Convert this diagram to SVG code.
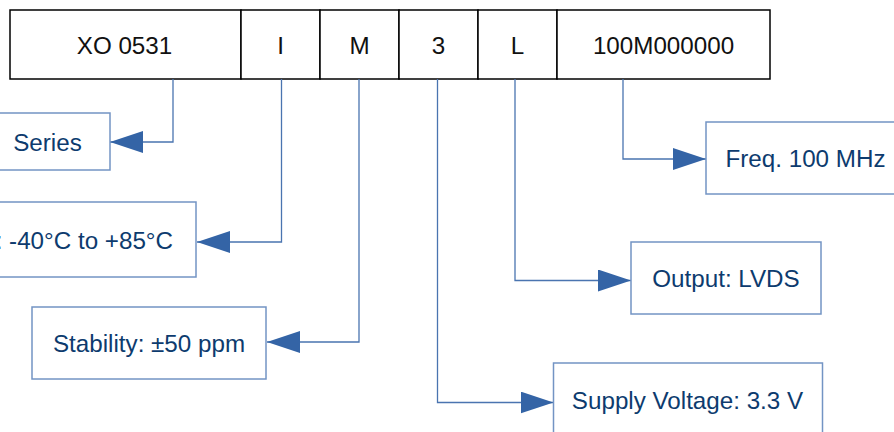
<svg xmlns="http://www.w3.org/2000/svg" width="894" height="432" viewBox="0 0 894 432">
<style>
.seg{fill:#ffffff;stroke:#000000;stroke-width:1.5}
.seg-t{font-family:"Liberation Sans",Arial,sans-serif;font-size:24.2px;fill:#111111;text-anchor:middle;dominant-baseline:central}
.lab{fill:#ffffff;stroke:#7394c4;stroke-width:1.5}
.lab-t{font-family:"Liberation Sans",Arial,sans-serif;font-size:24.2px;fill:#0d3b6e;text-anchor:middle;dominant-baseline:central}
.con{fill:none;stroke:#4a74b0;stroke-width:1.3}
</style>
<defs>
<marker id="arr" markerUnits="userSpaceOnUse" viewBox="0 0 33 22" markerWidth="33" markerHeight="22" refX="33" refY="11" orient="auto">
<path d="M0,0 L33,11 L0,22 Z" fill="#3464a6"/>
</marker>
</defs>
<rect width="894" height="432" fill="#ffffff"/>
<g id="code">
<g id="seg-series"><rect class="seg" x="10" y="10" width="231" height="69"/><text class="seg-t" x="124.5" y="45">XO 0531</text></g>
<g id="seg-temp"><rect class="seg" x="241" y="10" width="79" height="69"/><text class="seg-t" x="280.5" y="45">I</text></g>
<g id="seg-stab"><rect class="seg" x="320" y="10" width="79" height="69"/><text class="seg-t" x="359.5" y="45">M</text></g>
<g id="seg-volt"><rect class="seg" x="399" y="10" width="79" height="69"/><text class="seg-t" x="438.5" y="45">3</text></g>
<g id="seg-out"><rect class="seg" x="478" y="10" width="79" height="69"/><text class="seg-t" x="517.5" y="45">L</text></g>
<g id="seg-freq"><rect class="seg" x="557" y="10" width="213" height="69"/><text class="seg-t" x="663.5" y="45">100M000000</text></g>
</g>
<g id="connectors">
<polyline class="con" points="173,79 173,142 110,142" marker-end="url(#arr)"/>
<polyline class="con" points="281.5,79 281.5,242 197,242" marker-end="url(#arr)"/>
<polyline class="con" points="359,79 359,342 267,342" marker-end="url(#arr)"/>
<polyline class="con" points="437.5,79 437.5,402.5 553.5,402.5" marker-end="url(#arr)"/>
<polyline class="con" points="515,79 515,280.5 631,280.5" marker-end="url(#arr)"/>
<polyline class="con" points="623,79 623,159 706,159" marker-end="url(#arr)"/>
</g>
<g id="lab-series"><rect class="lab" x="-14" y="113" width="124" height="57"/><text class="lab-t" x="47.5" y="142">Series</text></g>
<g id="lab-temp"><rect class="lab" x="-60" y="202" width="256" height="75"/><text class="lab-t" x="173" y="240" style="text-anchor:end">Temp: -40°C to +85°C</text></g>
<g id="lab-stab"><rect class="lab" x="32" y="307" width="234" height="72"/><text class="lab-t" x="149" y="343">Stability: ±50 ppm</text></g>
<g id="lab-volt"><rect class="lab" x="553.5" y="363" width="269" height="78"/><text class="lab-t" x="687.5" y="400.5">Supply Voltage: 3.3 V</text></g>
<g id="lab-out"><rect class="lab" x="631" y="242" width="190" height="72"/><text class="lab-t" x="726" y="278">Output: LVDS</text></g>
<g id="lab-freq"><rect class="lab" x="706" y="122" width="198" height="72"/><text class="lab-t" x="805.5" y="158">Freq. 100 MHz</text></g>
</svg>
